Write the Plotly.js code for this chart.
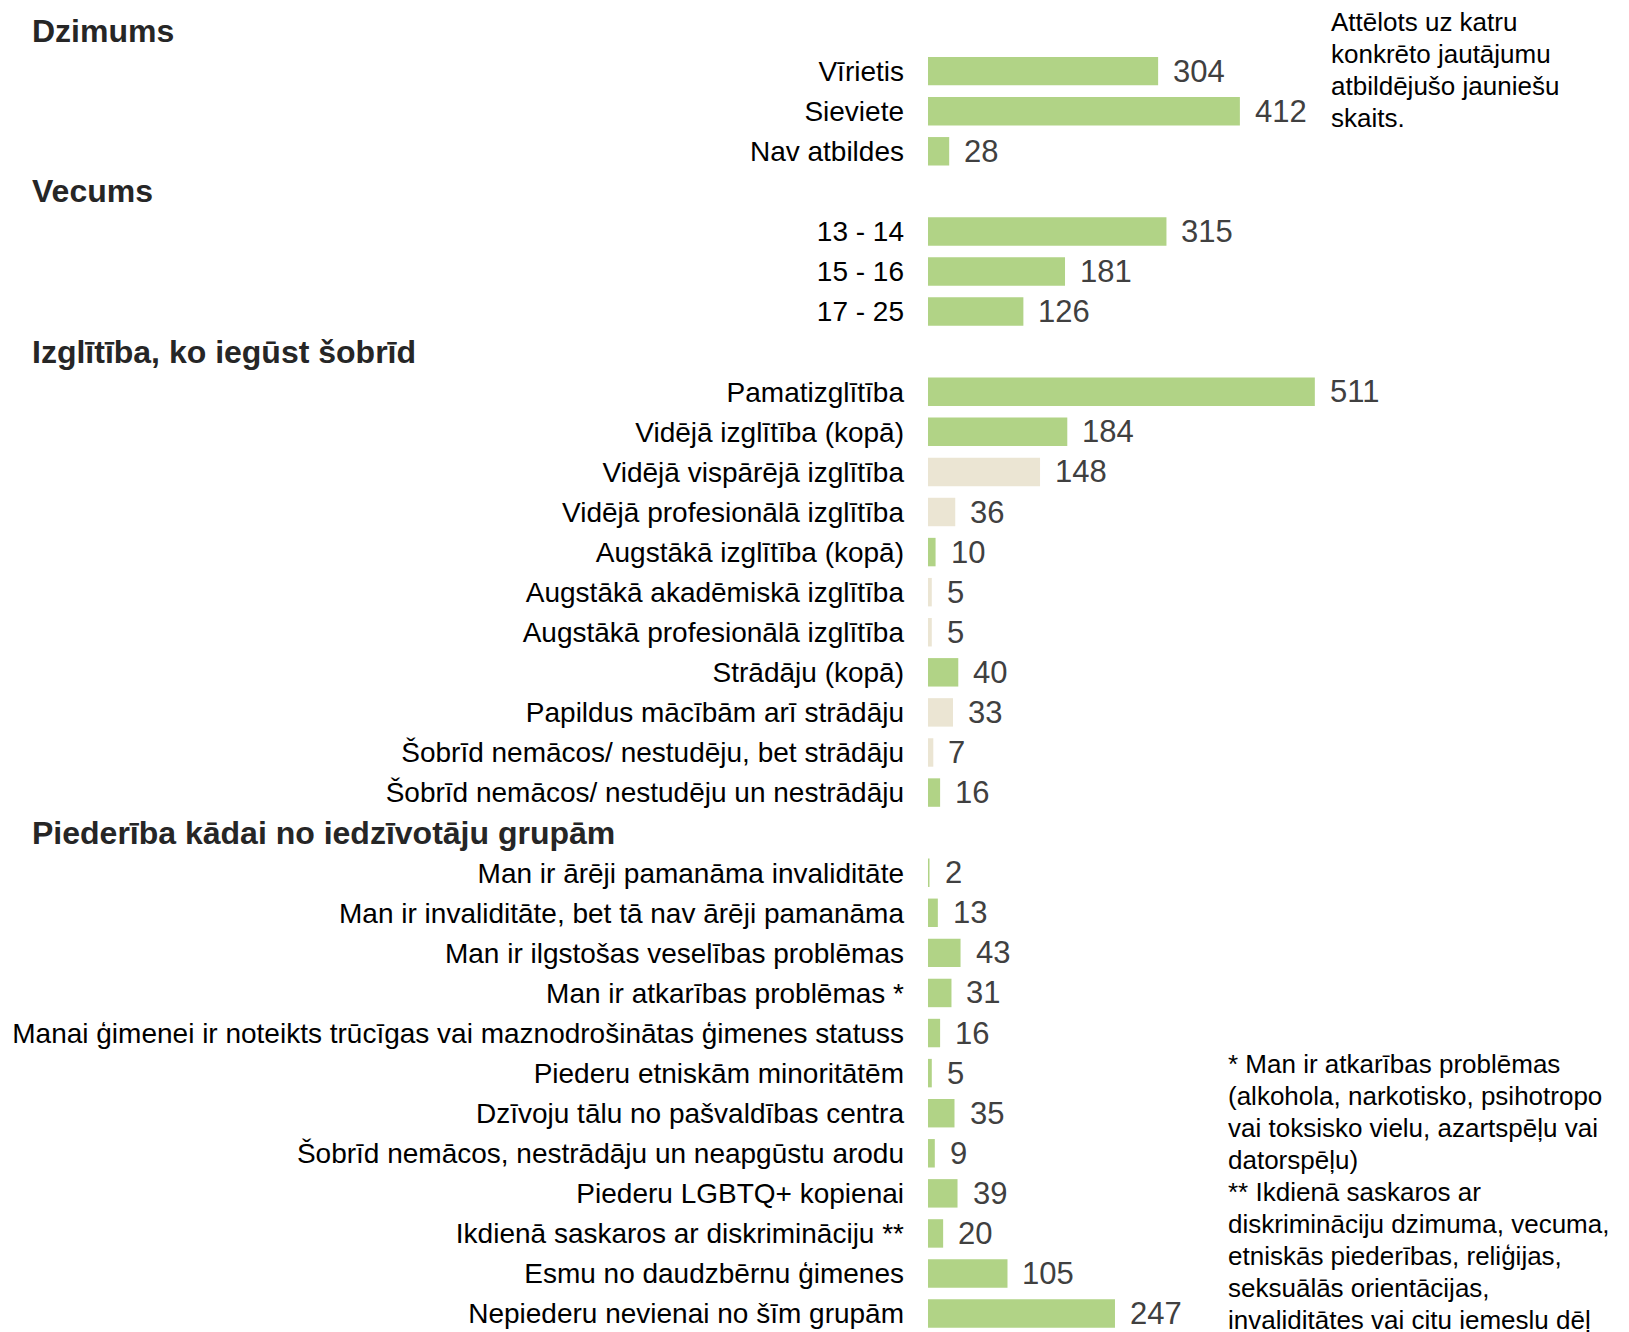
<!DOCTYPE html>
<html><head><meta charset="utf-8">
<script src="https://cdn.plot.ly/plotly-3.0.1.min.js"></script>
<style>html,body{margin:0;padding:0;background:#fff;} #chart{width:1629px;height:1332px;}</style>
</head><body><div id="chart"></div>
<script>
// ---- DATA ----
const sectionTitles = ['Dzimums', 'Vecums', 'Izglītība, ko iegūst šobrīd', 'Piederība kādai no iedzīvotāju grupām'];

const genderLabels = ['Vīrietis', 'Sieviete', 'Nav atbildes'];
const genderValues = [304, 412, 28];
const genderLevel = [0, 0, 0];

const ageLabels = ['13 - 14', '15 - 16', '17 - 25'];
const ageValues = [315, 181, 126];
const ageLevel = [0, 0, 0];

const eduLabels = [
  'Pamatizglītība',
  'Vidējā izglītība (kopā)',
  'Vidējā vispārējā izglītība',
  'Vidējā profesionālā izglītība',
  'Augstākā izglītība (kopā)',
  'Augstākā akadēmiskā izglītība',
  'Augstākā profesionālā izglītība',
  'Strādāju (kopā)',
  'Papildus mācībām arī strādāju',
  'Šobrīd nemācos/ nestudēju, bet strādāju',
  'Šobrīd nemācos/ nestudēju un nestrādāju'
];
const eduValues = [511, 184, 148, 36, 10, 5, 5, 40, 33, 7, 16];
const eduLevel = [0, 0, 1, 1, 0, 1, 1, 0, 1, 1, 0];

const groupLabels = [
  'Man ir ārēji pamanāma invaliditāte',
  'Man ir invaliditāte, bet tā nav ārēji pamanāma',
  'Man ir ilgstošas veselības problēmas',
  'Man ir atkarības problēmas *',
  'Manai ģimenei ir noteikts trūcīgas vai maznodrošinātas ģimenes statuss',
  'Piederu etniskām minoritātēm',
  'Dzīvoju tālu no pašvaldības centra',
  'Šobrīd nemācos, nestrādāju un neapgūstu arodu',
  'Piederu LGBTQ+ kopienai',
  'Ikdienā saskaros ar diskrimināciju **',
  'Esmu no daudzbērnu ģimenes',
  'Nepiederu nevienai no šīm grupām'
];
const groupValues = [2, 13, 43, 31, 16, 5, 35, 9, 39, 20, 105, 247];
const groupLevel = [0, 0, 0, 0, 0, 0, 0, 0, 0, 0, 0, 0];

const noteTop = ['Attēlots uz katru', 'konkrēto jautājumu', 'atbildējušo jauniešu', 'skaits.'];
const noteBottom = [
  '* Man ir atkarības problēmas',
  '(alkohola, narkotisko, psihotropo',
  'vai toksisko vielu, azartspēļu vai',
  'datorspēļu)',
  '** Ikdienā saskaros ar',
  'diskrimināciju dzimuma, vecuma,',
  'etniskās piederības, reliģijas,',
  'seksuālās orientācijas,',
  'invaliditātes vai citu iemeslu dēļ'
];

// ---- BUILD ----
const W = 1629, H = 1332;
const M = {l: 928, r: 0, t: 11, b: 0};
const PW = W - M.l - M.r, PH = H - M.t - M.b;
const PITCH = 40.08;
const PX_PER_UNIT = 0.757;
const FONT = 'Liberation Sans, Arial, sans-serif';
const GREEN = '#b1d386', BEIGE = '#ebe5d3';

const sections = [
  [genderLabels, genderValues, genderLevel],
  [ageLabels, ageValues, ageLevel],
  [eduLabels, eduValues, eduLevel],
  [groupLabels, groupValues, groupLevel]
];

const cats = [], barY = [], barX = [], barC = [];
sections.forEach((s, i) => {
  cats.push(sectionTitles[i]);
  s[0].forEach((lab, j) => {
    cats.push(lab);
    barY.push(lab);
    barX.push(s[1][j]);
    barC.push(s[2][j] ? BEIGE : GREEN);
  });
});

const px2x = px => (px - M.l) / PW;
const px2y = py => 1 - (py - M.t) / PH;

const annotations = [];
// value labels
barY.forEach((lab, i) => {
  annotations.push({x: barX[i], y: lab, xref: 'x', yref: 'y', text: String(barX[i]),
    xanchor: 'left', yanchor: 'middle', xshift: 13, showarrow: false,
    font: {family: FONT, size: 31, color: '#404040'}});
});
// section titles
sectionTitles.forEach(t => {
  annotations.push({x: px2x(30), y: t, xref: 'paper', yref: 'y', text: '<b>' + t + '</b>',
    xanchor: 'left', yanchor: 'middle', showarrow: false,
    font: {family: FONT, size: 32, color: '#262626'}});
});
// notes
noteTop.forEach((t, i) => {
  annotations.push({x: px2x(1329), y: px2y(22 + i * 32), xref: 'paper', yref: 'paper', text: t,
    xanchor: 'left', yanchor: 'middle', showarrow: false,
    font: {family: FONT, size: 26, color: '#000'}});
});
noteBottom.forEach((t, i) => {
  annotations.push({x: px2x(1226), y: px2y(1064 + i * 32), xref: 'paper', yref: 'paper', text: t,
    xanchor: 'left', yanchor: 'middle', showarrow: false,
    font: {family: FONT, size: 26, color: '#000'}});
});

const trace = {
  type: 'bar', orientation: 'h', x: barX, y: barY,
  marker: {color: barC, line: {width: 0}},
  hoverinfo: 'none'
};

const span = PH / PITCH;
const layout = {
  width: W, height: H, margin: M,
  paper_bgcolor: '#fff', plot_bgcolor: '#fff',
  showlegend: false, bargap: 0.29,
  font: {family: FONT},
  xaxis: {range: [0, PW / PX_PER_UNIT], visible: false, fixedrange: true},
  yaxis: {
    type: 'category', categoryorder: 'array', categoryarray: cats,
    range: [span - 0.5, -0.5],
    tickvals: barY, ticktext: barY,
    showgrid: false, zeroline: false, showline: false, ticks: '',
    ticklabelstandoff: 23,
    tickfont: {family: FONT, size: 28, color: '#000'}
  },
  annotations: annotations
};

Plotly.newPlot('chart', [trace], layout, {displayModeBar: false, staticPlot: true});
</script>
</body></html>
